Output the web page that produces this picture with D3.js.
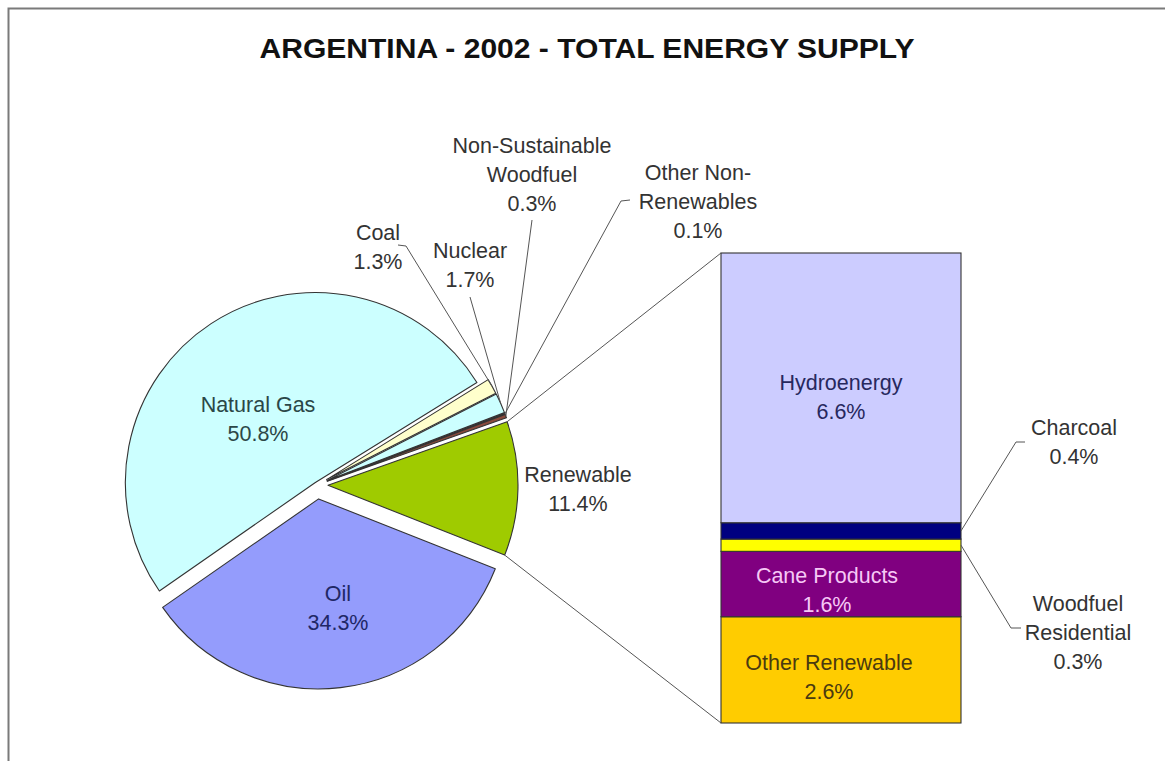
<!DOCTYPE html>
<html>
<head>
<meta charset="utf-8">
<script src="https://cdn.jsdelivr.net/npm/d3@7"></script>
<style>
  html, body { margin: 0; padding: 0; background: #fff; }
  svg { display: block; font-family: "Liberation Sans", Arial, sans-serif; }
</style>
</head>
<body>
<svg id="chart" width="1165" height="761"></svg>
<script>
// Total energy supply shares (%), pie slices in clockwise order starting at the Renewable slice
const pieLabels = ["Renewable", "Oil", "Natural Gas", "Coal", "Nuclear", "Other Non-Renewables", "Non-Sustainable Woodfuel"];
const pieValues = [11.4, 34.3, 50.8, 1.3, 1.7, 0.1, 0.3];

// Breakdown of the Renewable slice (%), stacked bottom to top
const barLabels = ["Other Renewable", "Cane Products", "Woodfuel Residential", "Charcoal", "Hydroenergy"];
const barValues = [2.6, 1.6, 0.3, 0.4, 6.6];

const title = "ARGENTINA - 2002 - TOTAL ENERGY SUPPLY";

// ---- styling / layout ----
const pieColor = {
  "Renewable": "#9fcb00",
  "Oil": "#949cfc",
  "Natural Gas": "#ccffff",
  "Coal": "#ffffcc",
  "Nuclear": "#ccffff",
  "Other Non-Renewables": "#660066",
  "Non-Sustainable Woodfuel": "#8a4a3c"
};
const barColor = {
  "Other Renewable": "#ffcc00",
  "Cane Products": "#800080",
  "Woodfuel Residential": "#ffff00",
  "Charcoal": "#000080",
  "Hydroenergy": "#ccccff"
};
const explode = {
  "Renewable": 11, "Oil": 14, "Natural Gas": 3, "Coal": 11, "Nuclear": 11,
  "Other Non-Renewables": 11, "Non-Sustainable Woodfuel": 11
};

const svg = d3.select("#chart");
const FONT = 21.5;
const LINE = 29;
const deg = Math.PI / 180;

// frame
svg.append("rect")
  .attr("x", 8.5).attr("y", 8.5)
  .attr("width", 1200).attr("height", 800)
  .attr("fill", "#fff")
  .attr("stroke", "#7a7a7a").attr("stroke-width", 2);

// title
svg.append("text")
  .attr("x", 587).attr("y", 48)
  .attr("text-anchor", "middle").attr("dominant-baseline", "central")
  .attr("font-size", 27.5).attr("font-weight", "bold").attr("fill", "#111")
  .attr("textLength", 655).attr("lengthAdjust", "spacingAndGlyphs")
  .text(title);

// ---- pie ----
const cx = 317, cy = 485, R = 190;
const startA = 70.5 * deg;
const pie = d3.pie().sort(null).value(d => d.value)
  .startAngle(startA).endAngle(startA + 2 * Math.PI);
const arcs = pie(pieLabels.map((l, i) => ({ label: l, value: pieValues[i] })));
const arc = d3.arc().innerRadius(0).outerRadius(R);

function dir(a) { return [Math.sin(a), -Math.cos(a)]; }
function offset(d) {
  const m = (d.startAngle + d.endAngle) / 2;
  const e = explode[d.data.label];
  const u = dir(m);
  return [cx + e * u[0], cy + e * u[1]];
}
function outerPoint(d, a) {
  const o = offset(d);
  const u = dir(a);
  return [o[0] + R * u[0], o[1] + R * u[1]];
}

const gPie = svg.append("g");
gPie.selectAll("path").data(arcs).join("path")
  .attr("transform", d => `translate(${offset(d)[0]},${offset(d)[1]})`)
  .attr("d", arc)
  .attr("fill", d => pieColor[d.data.label])
  .attr("stroke", "#333").attr("stroke-width", 1.1).attr("stroke-linejoin", "round");

const byLabel = {};
arcs.forEach(d => byLabel[d.data.label] = d);

// ---- bar of the Renewable slice ----
const barX0 = 721, barX1 = 961;
const barTotal = d3.sum(barValues);
const y = d3.scaleLinear().domain([0, barTotal]).range([723, 253]);
const stacked = [];
let acc = 0;
barLabels.forEach((l, i) => { stacked.push({ label: l, value: barValues[i], y0: acc, y1: acc + barValues[i] }); acc += barValues[i]; });

const gBar = svg.append("g");
gBar.selectAll("rect").data(stacked).join("rect")
  .attr("x", barX0).attr("width", barX1 - barX0)
  .attr("y", d => y(d.y1)).attr("height", d => y(d.y0) - y(d.y1))
  .attr("fill", d => barColor[d.label])
  .attr("stroke", "#333").attr("stroke-width", 1.1);

// connector lines between the Renewable slice and the bar
const ren = byLabel["Renewable"];
const pTop = outerPoint(ren, ren.startAngle);
const pBot = outerPoint(ren, ren.endAngle);
const conn = svg.append("g").attr("stroke", "#555").attr("stroke-width", 1).attr("fill", "none");
conn.append("line").attr("x1", pTop[0]).attr("y1", pTop[1]).attr("x2", barX0).attr("y2", y(barTotal));
conn.append("line").attr("x1", pBot[0]).attr("y1", pBot[1]).attr("x2", barX0).attr("y2", y(0));

// ---- labels ----
function label(lines, x, yc, color) {
  const t = svg.append("text")
    .attr("text-anchor", "middle")
    .attr("font-size", FONT).attr("fill", color);
  lines.forEach((s, i) => {
    t.append("tspan").attr("x", x).attr("y", yc + i * LINE).attr("dy", "0.35em").text(s);
  });
}
const pct = v => v.toFixed(1) + "%";
const pv = l => pieValues[pieLabels.indexOf(l)];
const bv = l => barValues[barLabels.indexOf(l)];

label(["Natural Gas", pct(pv("Natural Gas"))], 258, 404, "#2b4747");
label(["Oil", pct(pv("Oil"))], 338, 593, "#1f2766");
label(["Renewable", pct(pv("Renewable"))], 578, 474, "#333");
label(["Coal", pct(pv("Coal"))], 378, 232, "#333");
label(["Nuclear", pct(pv("Nuclear"))], 470, 250, "#333");
label(["Non-Sustainable", "Woodfuel", pct(pv("Non-Sustainable Woodfuel"))], 532, 145, "#333");
label(["Other Non-", "Renewables", pct(pv("Other Non-Renewables"))], 698, 172, "#333");

label(["Hydroenergy", pct(bv("Hydroenergy"))], 841, 382, "#27285e");
label(["Cane Products", pct(bv("Cane Products"))], 827, 575, "#f6c8f6");
label(["Other Renewable", pct(bv("Other Renewable"))], 829, 662, "#4a3a10");
label(["Charcoal", pct(bv("Charcoal"))], 1074, 427, "#333");
label(["Woodfuel", "Residential", pct(bv("Woodfuel Residential"))], 1078, 603, "#333");

// ---- leader lines ----
const leaders = svg.append("g").attr("stroke", "#555").attr("stroke-width", 1).attr("fill", "none");
function midOuter(l) { const d = byLabel[l]; return outerPoint(d, (d.startAngle + d.endAngle) / 2); }
function leader(points) { leaders.append("path").attr("d", d3.line()(points)); }

leader([[398, 245], [406, 246], midOuter("Coal")]);
leader([[470, 297], midOuter("Nuclear")]);
leader([[532, 220], midOuter("Non-Sustainable Woodfuel")]);
leader([[630, 200], [621, 201], midOuter("Other Non-Renewables")]);

const yMid = l => { const s = stacked.find(d => d.label === l); return y((s.y0 + s.y1) / 2); };
leader([[barX1, yMid("Charcoal")], [1016, 442], [1025, 442]]);
leader([[barX1, yMid("Woodfuel Residential")], [1011, 628], [1021, 628]]);
</script>
</body>
</html>
